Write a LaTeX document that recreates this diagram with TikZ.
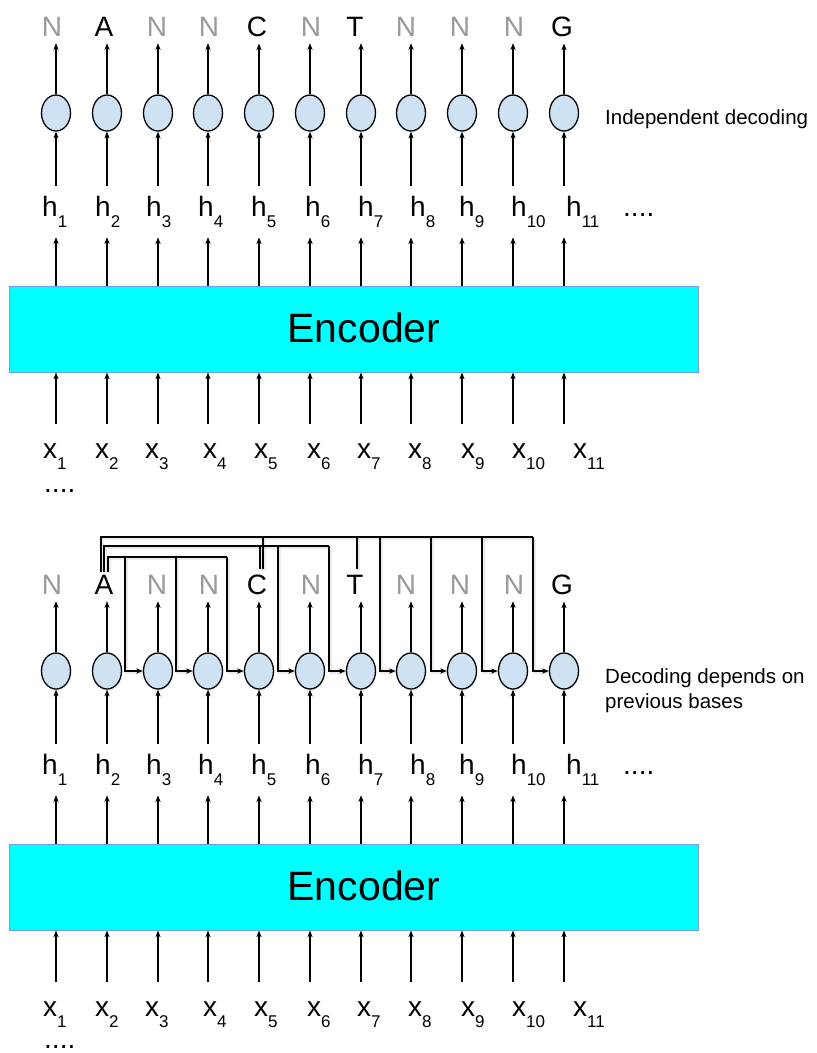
\documentclass[tikz,border=0pt]{standalone}
\usepackage{fontspec}
\setmainfont{Liberation Sans}
\usetikzlibrary{arrows.meta,shapes.geometric,shadows}

\definecolor{ovalblue}{HTML}{CFE2F3}
\definecolor{enccyan}{HTML}{00FFFF}
\definecolor{encedge}{HTML}{6D9EEB}
\definecolor{nogray}{HTML}{999999}

% symbol with a lowered index
\newcommand\lbl[2]{#1\raisebox{-11pt}{\fontsize{17}{17}\selectfont #2}}

\begin{document}
\begin{tikzpicture}[x=1pt,y=-1pt,
  arr/.style={line width=1.2pt,-{Stealth[length=6.5pt,width=5pt,inset=1.5pt]}},
  link/.style={line width=1.2pt},
  linkshade/.style={line width=3pt,draw=black,opacity=0.08,
    transform canvas={xshift=1pt,yshift=-1.5pt}},
  oval/.style={ellipse,draw,line width=1.3pt,fill=ovalblue,
    minimum width=29pt,minimum height=36pt,inner sep=0pt},
  tshade/.style={},
  bshade/.style={drop shadow={shadow xshift=1pt,shadow yshift=-1.5pt,
    opacity=0.15}},
  letter/.style={font=\fontsize{28}{30}\selectfont,anchor=base,
    inner xsep=0pt,inner ysep=7pt},
  hlab/.style={font=\fontsize{28}{30}\selectfont,anchor=base west,
    inner xsep=0pt,inner ysep=10pt},
  xlab/.style={font=\fontsize{28}{30}\selectfont,anchor=base west,
    inner sep=0pt},
  dots/.style={font=\fontsize{28}{30}\selectfont,anchor=base west,inner sep=0pt},
  encbox/.style={draw=encedge,line width=1pt,fill=enccyan,
    minimum width=689pt,minimum height=86pt,inner sep=0pt},
  enctext/.style={font=\fontsize{41}{44}\selectfont,anchor=base,inner sep=0pt},
  note/.style={font=\fontsize{20.5}{25}\selectfont,inner sep=0pt}]

\useasboundingbox (0,0) rectangle (817,1053);

% feeds from the decoded bases A, C and T (drawn first, under the cells)
\coordinate (d3) at (125,557);
\coordinate (d4) at (176,557);
\coordinate (d5) at (227,557);
\coordinate (d6) at (278,546);
\coordinate (d7) at (329,546);
\coordinate (d8) at (380,537);
\coordinate (d9) at (431,537);
\coordinate (d10) at (482,537);
\coordinate (d11) at (533,537);

\foreach \half/\yo in {t/0,b/558}{
  \node[encbox] (\half enc) at (353.5,\yo+329) {};
  \node[enctext] (\half enct) at (364,\yo+342) {Encoder};
  \foreach \i/\c/\lx/\L/\tc/\hx/\xx in {
      1/56/52/N/nogray/42/43,
      2/107/104/A/black/95/95,
      3/158/157/N/nogray/146/145,
      4/208/209/N/nogray/198/203,
      5/259/257/C/black/251/254,
      6/310/311/N/nogray/305/307,
      7/361/355/T/black/358/357,
      8/411/406/N/nogray/410/408,
      9/462/460/N/nogray/459/461,
      10/513/514/N/nogray/511/512,
      11/564/562/G/black/566/573}{
    \node[letter,text=\tc] (\half L\i) at (\lx,\yo+36) {\L};
    \node[hlab] (\half h\i) at (\hx,\yo+216) {\lbl{h}{\i}};
    \node[xlab] (\half x\i) at (\xx,\yo+458) {\lbl{x}{\i}};
    \coordinate (\half xt\i) at ([yshift=19pt]\half x\i.north);
  }
}

\coordinate (aO) at ([xshift=-3pt,yshift=-4pt]bL2.north);
\coordinate (aM) at ([yshift=-4pt]bL2.north);
\coordinate (aI) at ([xshift=4pt,yshift=-4pt]bL2.north);
\coordinate (cM) at ([xshift=3pt,yshift=-2pt]bL5.north);
\coordinate (cO) at ([xshift=6pt,yshift=-2pt]bL5.north);
\coordinate (tO) at ([xshift=2pt,yshift=-1pt]bL7.north);

\foreach \sty in {linkshade,link}{
  \draw[\sty] (aI) |- (d5);
  \draw[\sty] (aM) |- (d7);
  \draw[\sty] (cM) -- (cM |- d7);
  \draw[\sty] (aO) |- (d11);
  \draw[\sty] (cO) -- (cO |- d11);
  \draw[\sty] (tO) -- (tO |- d11);
}

\foreach \half/\yo in {t/0,b/558}{
  \foreach \i/\c in {1/56,2/107,3/158,4/208,5/259,6/310,7/361,8/411,
      9/462,10/513,11/564}{
    \node[oval,\half shade] (\half o\i) at (\c,\yo+113) {};
    \draw[arr] (\half o\i.north) -- (\half o\i.north |- \half L\i.south);
    \draw[arr] (\half o\i.south |- \half h\i.north) -- (\half o\i.south);
    \draw[arr] (\half o\i |- \half enc.north) -- (\half o\i |- \half h\i.south);
    \draw[arr] (\half o\i |- \half xt\i) -- (\half o\i |- \half enc.south);
  }
  \node[dots] (\half hd) at (623,\yo+216) {....};
}
\node[dots] (txd) at (44,492) {....};
\node[dots] (bxd) at (44,1048) {....};

\foreach \k in {3,...,11}{
  \draw[linkshade] (d\k) |- (bo\k.west);
  \draw[arr] (d\k) |- (bo\k.west);
}

\node[note,anchor=base west] (tnote) at (605,124) {Independent decoding};
\node[note,anchor=north west,align=left] (bnote) at (605,668)
  {Decoding depends on\\previous bases};

\end{tikzpicture}
\end{document}
